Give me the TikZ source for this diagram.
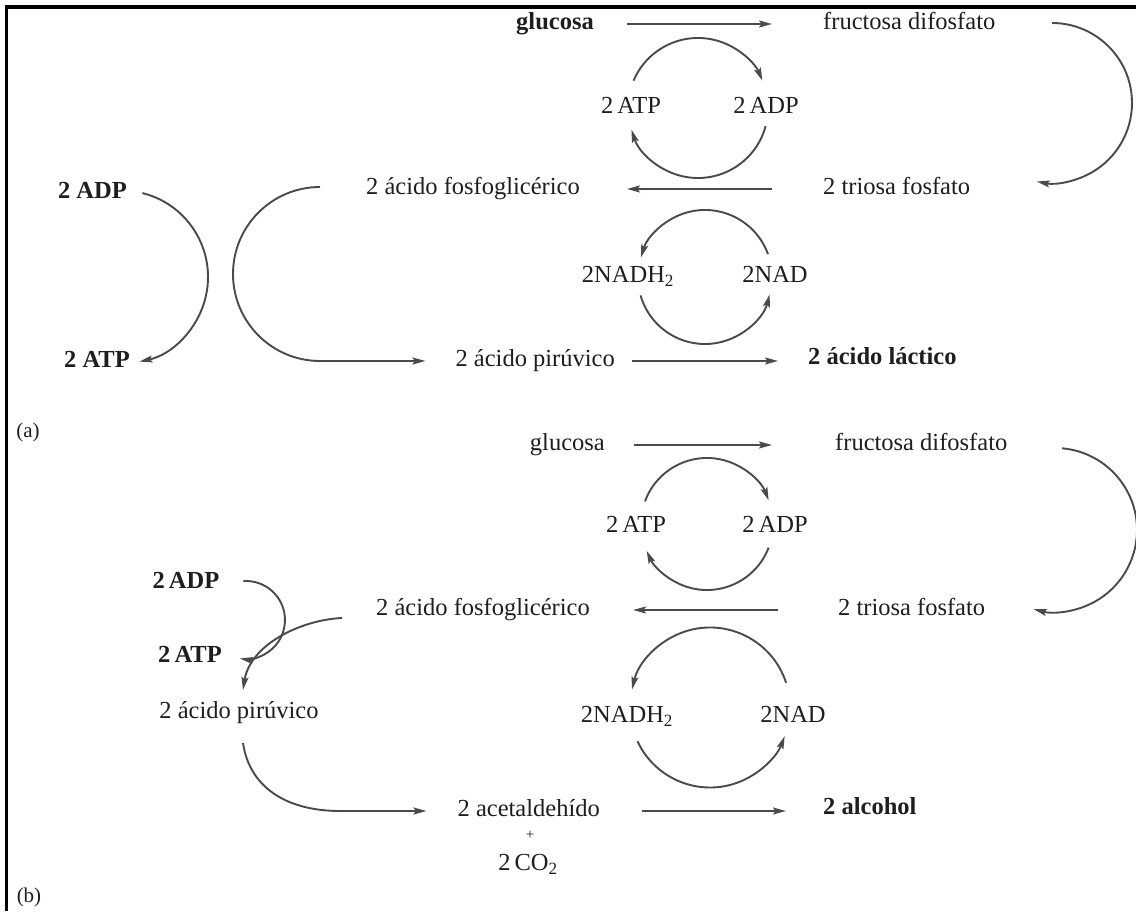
\documentclass[tikz,border=0pt]{standalone}
\usepackage{fontspec}
\setmainfont{Liberation Serif}
\usetikzlibrary{arrows.meta,calc}
\definecolor{ink}{HTML}{1E1E1E}
\definecolor{lin}{HTML}{4A4A4A}
\begin{document}
\begin{tikzpicture}[x=1pt,y=1pt,
  lbl/.style={inner sep=0pt, text=ink, font=\fontsize{24.5}{29}\selectfont, text height=17pt, text depth=5pt},
  blbl/.style={lbl, font=\fontsize{24.5}{29}\selectfont\bfseries},
  small/.style={inner sep=0pt, text=ink, font=\fontsize{21}{25}\selectfont},
  arr/.style={draw=lin, line width=1.9pt, -{Stealth[length=13pt,width=7pt,inset=2.5pt]}}]
\useasboundingbox (0,0) rectangle (1136,911);
\fill[white] (0,0) rectangle (1136,911);
% scan border
\draw[line width=4pt, black] (5,903.5) -- (1136,903.5);
\draw[line width=3pt, black] (6.5,905.5) -- (6.5,0);

% ---------------- (a) ----------------
\node[blbl, anchor=east] (gluA) at (594,887) {glucosa};
\node[lbl, anchor=west] (fruA) at (823,887) {fructosa difosfato};
\node[lbl] (atpA) at (631,803) {2\,ATP};
\node[lbl] (adpA) at (766,803) {2\,ADP};
\node[lbl, anchor=west] (triA) at (823,722) {2 triosa fosfato};
\node[lbl, anchor=east] (fosA) at (580,722) {2 ácido fosfoglicérico};
\node[lbl] (nadhA) at (628,634) {2NADH\textsubscript{2}};
\node[lbl] (nadA) at (775,634) {2NAD};
\node[lbl, anchor=east] (pirA) at (615,550) {2 ácido pirúvico};
\node[blbl, anchor=west] (lacA) at (808,552) {2 ácido láctico};
\node[blbl, anchor=east] (adpLA) at (127,718) {2 ADP};
\node[blbl, anchor=east] (atpLA) at (130,549) {2 ATP};
\node[small] (labA) at (28,479) {(a)};

\draw[arr, shorten <=33pt, shorten >=51pt] (gluA.east) -- (fruA.west);
\draw[arr, shorten <=51pt, shorten >=47pt] (triA.west) -- (fosA.east);
\draw[arr, shorten <=17pt, shorten >=30pt] (pirA.east) -- (pirA.east -| lacA.west);

\coordinate (cA) at (698,803);
\draw[arr] ($(cA)+(157:70)$) arc[start angle=157,end angle=23,radius=70];
\draw[arr] ($(cA)+(-15:70)$) arc[start angle=-15,end angle=-162,radius=70];
\coordinate (nA) at (705,634);
\draw[arr] ($(nA)+(20:67)$) arc[start angle=20,end angle=163,radius=67];
\draw[arr] ($(nA)+(196:67)$) arc[start angle=196,end angle=345,radius=67];

\coordinate (rA) at (1052,808);
\draw[arr] ($(rA)+(90:80)$) arc[start angle=90,end angle=-101,radius=80];

\coordinate (lA) at (121.5,634);
\draw[arr] ($(lA)+(76:86.5)$) arc[start angle=76,end angle=-78,radius=86.5];
\coordinate (bA) at (320,637);
\draw[arr] ($(bA)+(90:87)$) arc[start angle=90,end angle=270,radius=87] -- ([xshift=-30pt]pirA.west);

% ---------------- (b) ----------------
\node[lbl, anchor=east] (gluB) at (605,466) {glucosa};
\node[lbl, anchor=west] (fruB) at (835,466) {fructosa difosfato};
\node[lbl] (atpB) at (636,384) {2\,ATP};
\node[lbl] (adpB) at (775,384) {2\,ADP};
\node[lbl, anchor=west] (triB) at (838,301) {2 triosa fosfato};
\node[lbl, anchor=east] (fosB) at (590,301) {2 ácido fosfoglicérico};
\node[lbl] (nadhB) at (627,194) {2NADH\textsubscript{2}};
\node[lbl] (nadB) at (793,194) {2NAD};
\node[lbl, anchor=east] (acetB) at (600,100) {2 acetaldehído};
\node[inner sep=0pt, text=ink, font=\fontsize{15}{17}\selectfont] (plusB) at (530,76) {+};
\node[lbl] (co2B) at (528,46) {2\,CO\textsubscript{2}};
\node[blbl, anchor=west] (alcB) at (823,102) {2 alcohol};
\node[blbl] (adpLB) at (186,328) {2\,ADP};
\node[blbl] (atpLB) at (190,254) {2\,ATP};
\node[lbl] (pirB) at (239,198) {2 ácido pirúvico};
\node[small] (labB) at (29,14) {(b)};

\draw[arr, shorten <=29pt, shorten >=63pt] (gluB.east) -- (fruB.west);
\draw[arr, shorten <=60pt, shorten >=43pt] (triB.west) -- (fosB.east);
\draw[arr, shorten <=42pt, shorten >=37pt] (acetB.east) -- (acetB.east -| alcB.west);

\coordinate (cB) at (707,387);
\draw[arr] ($(cB)+(160:66)$) arc[start angle=160,end angle=21,radius=66];
\draw[arr] ($(cB)+(-21:66)$) arc[start angle=-21,end angle=-156,radius=66];
\coordinate (nB) at (710,203.5);
\draw[arr] ($(nB)+(18:80)$) arc[start angle=18,end angle=167,radius=80];
\draw[arr] ($(nB)+(205:80)$) arc[start angle=205,end angle=339,radius=80];

\coordinate (rB) at (1055,381);
\draw[arr] ($(rB)+(85:82)$) arc[start angle=85,end angle=-105,radius=82];

\coordinate (lB) at (246,291);
\draw[arr] ($(lB)+(94:39)$) arc[start angle=94,end angle=-99,radius=39];
\coordinate (fb0) at (342,293);
\draw[arr] (fb0) .. controls (300,291) and (250,266) .. (243,221);
\coordinate (pb0) at (243,168);
\draw[arr] (pb0) .. controls (250,121) and (290,100) .. (340,100) -- ([xshift=-31pt]acetB.west);
\end{tikzpicture}
\end{document}
